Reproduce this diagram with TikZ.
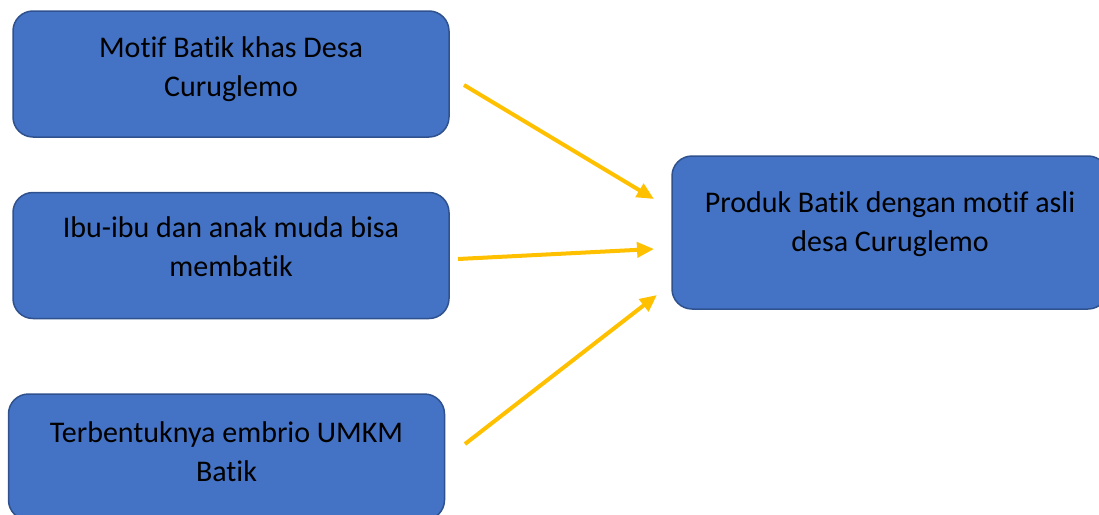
\documentclass[tikz,border=0pt]{standalone}
\usepackage{fontspec}
\setmainfont{Carlito}[RawFeature=-liga]
\usetikzlibrary{arrows.meta}
\definecolor{boxblue}{HTML}{4472C4}
\definecolor{boxline}{HTML}{2F528F}
\definecolor{arrgold}{HTML}{FFC000}
\tikzset{
  kotak/.style={draw=boxline,fill=boxblue,line width=1.5pt,rounded corners=20pt,
    minimum width=436pt,minimum height=126pt,inner sep=0pt},
  teks/.style={align=center,anchor=north,inner sep=0pt,
    font=\fontsize{30}{39}\selectfont},
  panah/.style={draw=arrgold,line width=4pt,-{Triangle[length=17pt,width=15pt]}}
}
\begin{document}
\begin{tikzpicture}[x=1pt,y=-1pt]
\useasboundingbox (0,0) rectangle (1099,514);
% kotak kiri
\node[kotak] (motif) at (231,74) {};
\node[kotak] (ibu) at (231,255.5) {};
\node[kotak] (umkm) at (226.5,457) {};
% kotak kanan
\node[kotak,minimum height=153pt] (produk) at (890,232.5) {};
\node[teks] (tmotif) at ([yshift=-26pt]motif.north) {Motif Batik khas Desa\\Curuglemo};
\node[teks] (tibu) at ([yshift=-25pt]ibu.north) {Ibu-ibu dan anak muda bisa\\membatik};
\node[teks] (tumkm) at ([yshift=-28pt]umkm.north) {Terbentuknya embrio UMKM\\Batik};
\node[teks] (tproduk) at ([yshift=-36pt]produk.north) {Produk Batik dengan motif asli\\desa Curuglemo};
% panah
\coordinate (m1) at (464,85);
\coordinate (m2) at (654,199);
\coordinate (i1) at (458,259);
\coordinate (i2) at (654,249);
\coordinate (u1) at (465,444);
\coordinate (u2) at (657,295);
\draw[panah] (m1) -- (m2);
\draw[panah] (i1) -- (i2);
\draw[panah] (u1) -- (u2);
\end{tikzpicture}
\end{document}
